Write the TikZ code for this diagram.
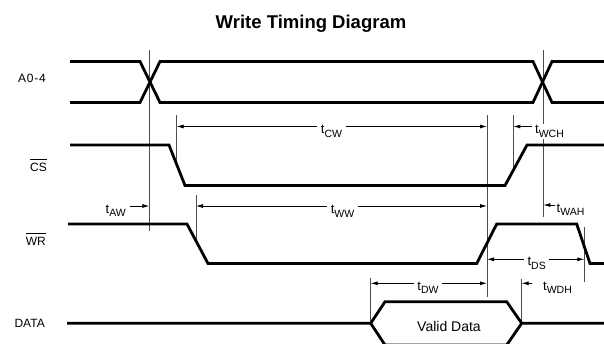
\documentclass[tikz,border=0pt]{standalone}
\usepackage{fontspec}
\setmainfont{Liberation Sans}
\usetikzlibrary{arrows.meta}
\newcommand\ovl[1]{\leavevmode\vbox{\hrule height 0.8pt\kern 3.2pt\hbox{#1}}}
\newcommand\tlab[1]{{\fontsize{13}{13}\selectfont t}\raisebox{-3.5pt}{\fontsize{10.5}{10.5}\selectfont #1}}
\tikzset{
  sig/.style={line width=2.8pt},
  guide/.style={line width=0.8pt, black!70},
  dimone/.style={line width=0.8pt, -{Latex[length=7pt,width=4pt]}},
  dimtwo/.style={line width=0.8pt, {Latex[length=7pt,width=4pt]}-{Latex[length=7pt,width=4pt]}},
  siglabel/.style={anchor=base east, inner sep=0pt, font=\fontsize{12}{14}\selectfont},
  tmid/.style={anchor=base, fill=white, inner ysep=1pt, inner xsep=3.5pt},
  tside/.style={inner sep=0pt}
}
\begin{document}
\begin{tikzpicture}[x=1pt,y=-1pt]
\useasboundingbox (0,0) rectangle (604,343);
\clip (0,0) rectangle (604,343);

% title
\node[anchor=base, inner sep=0pt, font=\bfseries\fontsize{18.5}{20}\selectfont] (title) at (311,28.3) {Write Timing Diagram};

% signal labels
\node[siglabel] (lA) at (46,82) {A\kern0.8pt0\kern0.8pt-\kern0.8pt4};
\node[siglabel] (lCS) at (47,171.7) {\ovl{CS}};
\node[siglabel] (lWR) at (46,245) {\ovl{WR}};
\node[siglabel] (lD) at (45,327.3) {DATA};

% guide lines
\coordinate (gA1) at (149.3,50);  \coordinate (gA2) at (149.3,231);
\coordinate (gB1) at (543.3,50);  \coordinate (gB2) at (543.3,217);
\coordinate (gC1) at (176.7,115); \coordinate (gC2) at (176.7,164);
\coordinate (gD1) at (196,195);   \coordinate (gD2) at (196,241);
\coordinate (gE1) at (487,115);   \coordinate (gE2) at (487,297);
\coordinate (gF1) at (513.3,115); \coordinate (gF2) at (513.3,168);
\coordinate (gG1) at (584.3,226.7); \coordinate (gG2) at (584.3,281.7);
\coordinate (gH1) at (370.7,278); \coordinate (gH2) at (370.7,323);
\coordinate (gI1) at (521.7,279.3); \coordinate (gI2) at (521.7,322);
\foreach \g in {A,B,C,D,E,F,G,H,I} \draw[guide] (g\g1) -- (g\g2);

% A0-4
\draw[sig] (70,61.5) -- (140,61.5) -- (160,102.5) -- (533,102.5) -- (552,61.5) -- (610,61.5);
\draw[sig] (70,102.5) -- (140,102.5) -- (160,61.5) -- (533,61.5) -- (552,102.5) -- (610,102.5);
% CS
\draw[sig] (70,145) -- (169,145) -- (185,185.5) -- (505,185.5) -- (527,145) -- (610,145);
% WR
\draw[sig] (68,224) -- (187,224) -- (208,263.5) -- (476.7,263.5) -- (496.7,224) -- (576.7,224) -- (590,263.5) -- (610,263.5);
% DATA
\draw[sig] (67,323.3) -- (370.7,323.3) -- (385,301.7) -- (506.7,301.7) -- (521.7,323.3) -- (610,323.3);
\draw[sig] (370.7,323.3) -- (385,345) -- (506.7,345) -- (521.7,323.3);
\node[anchor=base, inner sep=0pt, font=\fontsize{14}{16}\selectfont] (valid) at (449,331) {Valid Data};

% timing dimensions
\draw[dimtwo] (176.7,126.5) -- (487,126.5);
\node[tmid] (tcw) at (331.5,133.5) {\tlab{CW}};
\draw[dimone] (531.7,126.5) -- (513.3,126.5);
\node[anchor=base west, fill=white, inner xsep=1pt, inner ysep=1.5pt] (twch) at (534,133.5) {\tlab{WCH}};

\draw[dimone] (130,206) -- (149.3,206);
\node[tside, anchor=base east] (taw) at (126,213) {\tlab{AW}};
\draw[dimtwo] (196,206) -- (487,206);
\node[tmid] (tww) at (342.5,213.5) {\tlab{WW}};
\draw[dimone] (555,205) -- (543.3,205);
\node[tside, anchor=base west] (twah) at (556.5,212) {\tlab{WAH}};

\draw[dimtwo] (487,259.3) -- (584.3,259.3);
\node[tmid] (tds) at (536.7,265.5) {\tlab{DS}};

\draw[dimtwo] (370.7,283.3) -- (487,283.3);
\node[tmid] (tdw) at (428,290.3) {\tlab{DW}};
\draw[dimone] (532,283.3) -- (521.7,283.3);
\node[tside, anchor=base west] (twdh) at (543,290.3) {\tlab{WDH}};
\end{tikzpicture}
\end{document}
